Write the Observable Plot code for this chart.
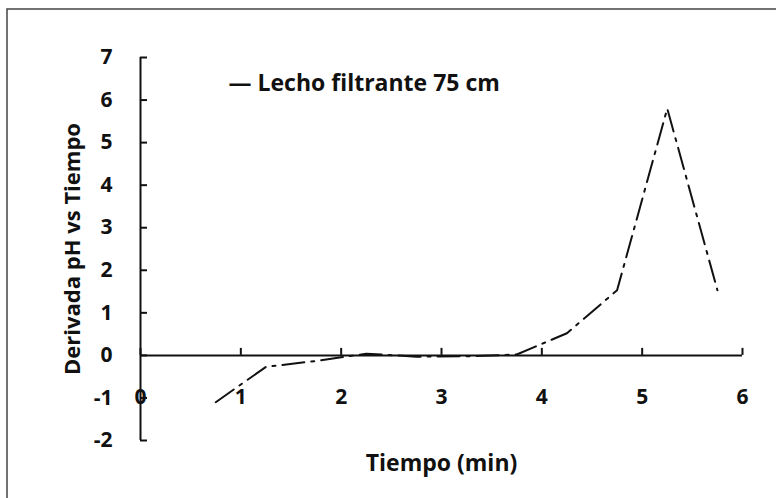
<!DOCTYPE html>
<html>
<head>
<meta charset="utf-8">
<script src="https://cdn.jsdelivr.net/npm/d3@7"></script>
<script src="https://cdn.jsdelivr.net/npm/@observablehq/plot@0.6"></script>
<style>
  html, body { margin: 0; padding: 0; background: #fff; overflow: hidden; }
  #chart { position: relative; width: 776px; height: 498px; }
</style>
</head>
<body>
<div id="chart"></div>
<script>
// Data
const tiempo = [0.75, 1.25, 1.75, 2.25, 2.75, 3.25, 3.75, 4.25, 4.75, 5.25, 5.75];
const derivada = [-1.1, -0.27, -0.13, 0.04, -0.03, -0.02, 0.02, 0.52, 1.53, 5.8, 1.53];
const xTicks = [0, 1, 2, 3, 4, 5, 6];
const yTicks = [-2, -1, 0, 1, 2, 3, 4, 5, 6, 7];
const seriesName = "Lecho filtrante 75 cm";
const xTitle = "Tiempo (min)";
const yTitle = "Derivada pH vs Tiempo";

const data = tiempo.map((t, i) => ({t, d: derivada[i]}));

const font = "'Open Sans', sans-serif";

const plot = Plot.plot({
  width: 776,
  height: 498,
  marginLeft: 140,
  marginRight: 34,
  marginTop: 57,
  marginBottom: 58,
  style: {fontFamily: font, fontWeight: "bold", fontSize: "21px", color: "#111", background: "#fff"},
  x: {domain: [0, 6], axis: null},
  y: {domain: [-2, 7], axis: null},
  marks: [
    // y axis line and inward ticks
    Plot.ruleX([0], {y1: -2, y2: 7, stroke: "#111", strokeWidth: 2}),
    Plot.ruleY(yTicks, {y: d => d, x1: 0, x2: 0, insetRight: -7, stroke: "#111", strokeWidth: 2}),
    // x axis line at zero and ticks
    Plot.ruleY([0], {x1: 0, x2: 6, stroke: "#111", strokeWidth: 2}),
    Plot.ruleX(xTicks, {x: d => d, y1: 0, y2: 0, insetTop: -7, stroke: "#111", strokeWidth: 2}),
    // tick labels
    Plot.text(yTicks, {y: d => d, text: d => String(d), frameAnchor: "left", dx: -28, textAnchor: "end", lineAnchor: "middle", fill: "#111"}),
    Plot.text(xTicks, {x: d => d, text: d => String(d), frameAnchor: "bottom", dy: -43, textAnchor: "middle", lineAnchor: "middle", fill: "#111"}),
    // axis titles
    Plot.text([yTitle], {frameAnchor: "left", dx: -68, rotate: -90, textAnchor: "middle", lineAnchor: "middle", fontSize: 22, fill: "#111"}),
    Plot.text([xTitle], {frameAnchor: "bottom", dy: 23, textAnchor: "middle", lineAnchor: "middle", fontSize: 23, fill: "#111"}),
    // series line
    Plot.line(data, {x: "t", y: "d", stroke: "#111", strokeWidth: 2, strokeDasharray: "22,7,3,7"}),
    // legend
    Plot.text(["\u2014 " + seriesName], {frameAnchor: "top-left", dx: 88, dy: 26, textAnchor: "start", lineAnchor: "middle", fontSize: 23, fill: "#111"})
  ]
});

// outer chart border (Excel chart area)
d3.select(plot).insert("rect", ":first-child")
  .attr("x", 7).attr("y", 9).attr("width", 900).attr("height", 700)
  .attr("fill", "none").attr("stroke", "#444").attr("stroke-width", 1.5);

document.getElementById("chart").appendChild(plot);
</script>
</body>
</html>
